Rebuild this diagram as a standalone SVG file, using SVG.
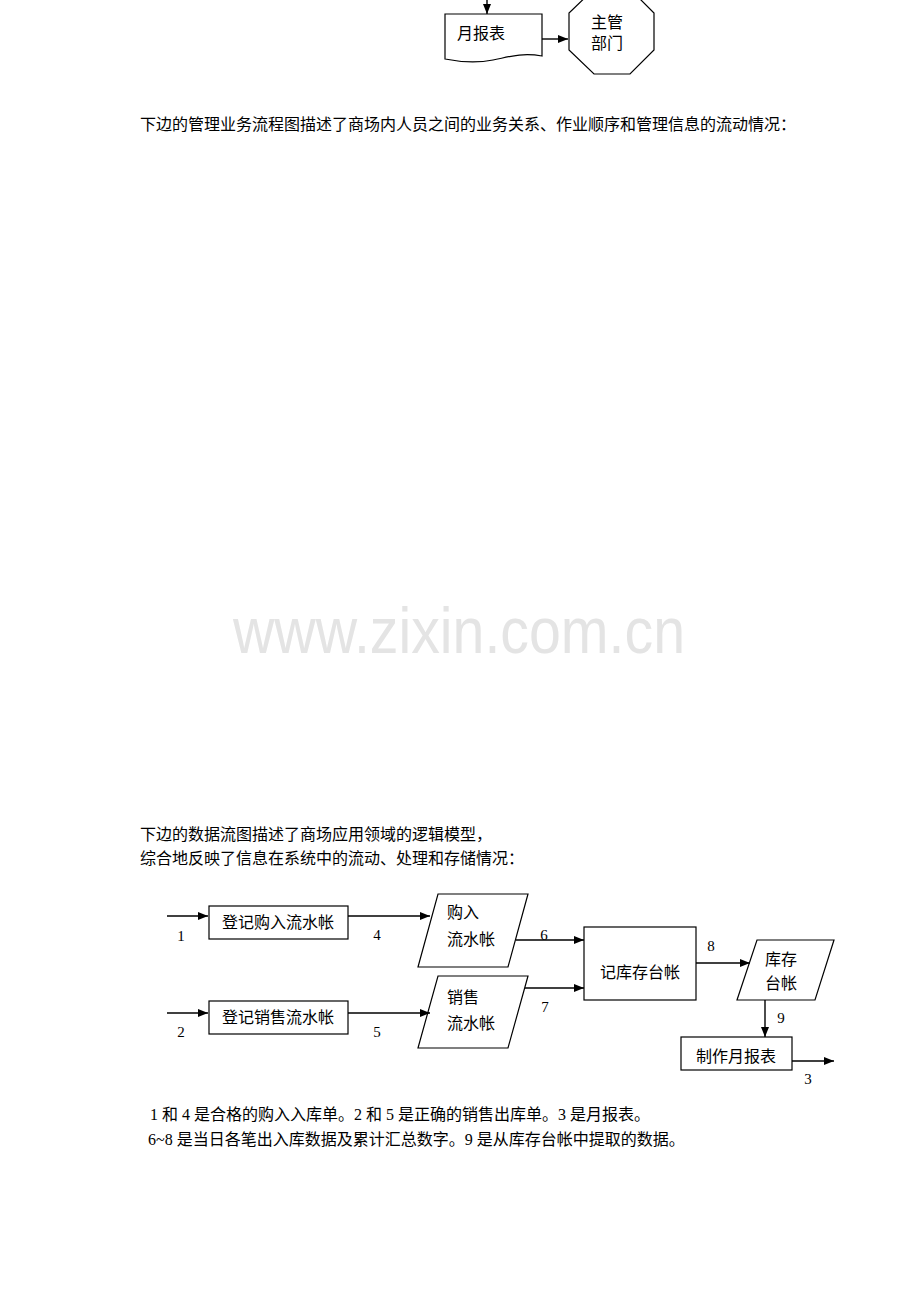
<svg xmlns="http://www.w3.org/2000/svg" width="920" height="1302" viewBox="0 0 920 1302">
<defs>
<style>
.t{font-family:"Liberation Serif","Noto Sans CJK SC",serif;font-size:16px;fill:#000}
.n{font-family:"Liberation Serif",serif;font-size:15px;fill:#000}
.s{fill:#fff;stroke:#000;stroke-width:1.2}
.c{fill:none;stroke:#000;stroke-width:1.4}
.wm{font-family:"Liberation Sans",Arial,sans-serif;font-size:64px;fill:#e4e4e4}
</style>
<marker id="ah" markerWidth="10" markerHeight="8" refX="10" refY="4" orient="auto" markerUnits="userSpaceOnUse">
<path d="M0,0 L10,4 L0,8 Z" fill="#000"/>
</marker>
</defs>
<rect width="920" height="1302" fill="#fff"/>
<text class="wm" x="233" y="653" textLength="452" lengthAdjust="spacingAndGlyphs">www.zixin.com.cn</text>

<g id="report-doc">
<path class="s" d="M445,14 H542 V56 C520,52 505,58 493,60 C478,63 460,62 445,59 Z"/>
<text class="t" x="457" y="39">月报表</text>
</g>
<g id="dept">
<polygon class="s" points="594,-11 630,-11 654,13 654,50 630,74 594,74 569,50 569,13"/>
<text class="t" x="607" y="28" text-anchor="middle">主管</text>
<text class="t" x="607" y="49" text-anchor="middle">部门</text>
</g>

<text class="t" x="140" y="130">下边的管理业务流程图描述了商场内人员之间的业务关系、作业顺序和管理信息的流动情况：</text>
<text class="t" x="140" y="840">下边的数据流图描述了商场应用领域的逻辑模型，</text>
<text class="t" x="140" y="864">综合地反映了信息在系统中的流动、处理和存储情况：</text>

<g id="p1">
<rect class="s" x="209" y="906" width="139" height="33"/>
<text class="t" x="278" y="928" text-anchor="middle">登记购入流水帐</text>
</g>
<g id="p2">
<rect class="s" x="209" y="1001" width="139" height="33"/>
<text class="t" x="278" y="1023" text-anchor="middle">登记销售流水帐</text>
</g>
<g id="d1">
<polygon class="s" points="438,894 528,894 508,967 418,967"/>
<text class="t" x="447" y="918">购入</text>
<text class="t" x="447" y="945">流水帐</text>
</g>
<g id="d2">
<polygon class="s" points="438,976 528,976 508,1048 418,1048"/>
<text class="t" x="447" y="1003">销售</text>
<text class="t" x="447" y="1029">流水帐</text>
</g>
<g id="p3">
<rect class="s" x="584" y="927" width="112" height="73"/>
<text class="t" x="640" y="978" text-anchor="middle">记库存台帐</text>
</g>
<g id="d3">
<polygon class="s" points="757,940 834,940 815,1000 737,1000"/>
<text class="t" x="781" y="965" text-anchor="middle">库存</text>
<text class="t" x="781" y="989" text-anchor="middle">台帐</text>
</g>
<g id="p4">
<rect class="s" x="681" y="1037" width="111" height="33"/>
<text class="t" x="736" y="1062" text-anchor="middle">制作月报表</text>
</g>

<g id="connectors">
<line class="c" x1="487" y1="0" x2="487" y2="14" marker-end="url(#ah)"/>
<line class="c" x1="542" y1="39" x2="568" y2="39" marker-end="url(#ah)"/>
<line class="c" x1="167" y1="916" x2="208" y2="916" marker-end="url(#ah)"/>
<line class="c" x1="348" y1="916" x2="430" y2="916" marker-end="url(#ah)"/>
<line class="c" x1="167" y1="1013" x2="208" y2="1013" marker-end="url(#ah)"/>
<line class="c" x1="348" y1="1013" x2="430" y2="1013" marker-end="url(#ah)"/>
<line class="c" x1="516" y1="940" x2="584" y2="940" marker-end="url(#ah)"/>
<line class="c" x1="525" y1="988" x2="584" y2="988" marker-end="url(#ah)"/>
<line class="c" x1="696" y1="963" x2="750" y2="963" marker-end="url(#ah)"/>
<line class="c" x1="765" y1="1000" x2="765" y2="1037" marker-end="url(#ah)"/>
<line class="c" x1="792" y1="1061" x2="834" y2="1061" marker-end="url(#ah)"/>
<text class="n" x="181" y="941" text-anchor="middle">1</text>
<text class="n" x="377" y="940" text-anchor="middle">4</text>
<text class="n" x="181" y="1037" text-anchor="middle">2</text>
<text class="n" x="377" y="1037" text-anchor="middle">5</text>
<text class="n" x="544" y="940" text-anchor="middle">6</text>
<text class="n" x="545" y="1012" text-anchor="middle">7</text>
<text class="n" x="711" y="951" text-anchor="middle">8</text>
<text class="n" x="781" y="1023" text-anchor="middle">9</text>
<text class="n" x="808" y="1084" text-anchor="middle">3</text>
</g>

<text class="t" x="150" y="1120">1 和 4 是合格的购入入库单。2 和 5 是正确的销售出库单。3 是月报表。</text>
<text class="t" x="148" y="1145">6~8 是当日各笔出入库数据及累计汇总数字。9 是从库存台帐中提取的数据。</text>
</svg>
